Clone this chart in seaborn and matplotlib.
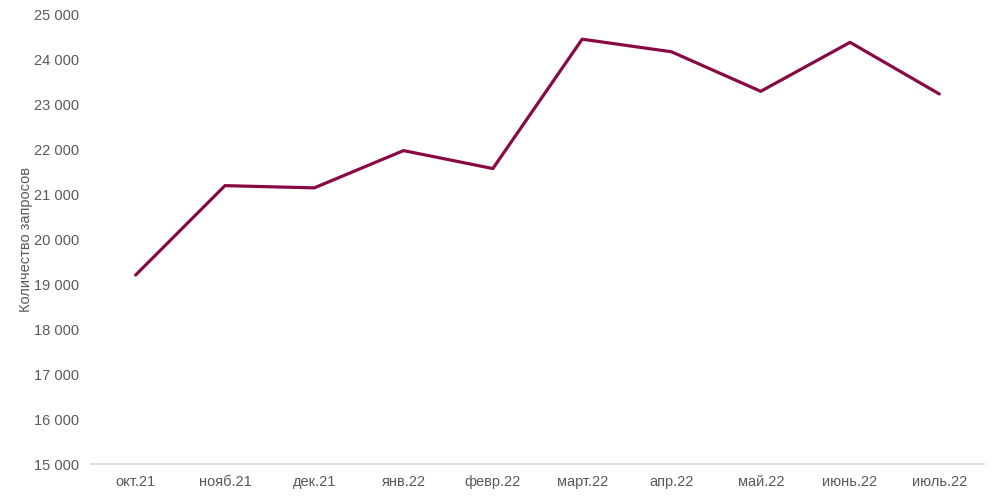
#Line chart of monthly request counts
import pandas as pd
import numpy as np
import seaborn as sns
import matplotlib.pyplot as plt
from matplotlib.ticker import FuncFormatter, MultipleLocator

months = ['окт.21', 'нояб.21', 'дек.21', 'янв.22', 'февр.22',
          'март.22', 'апр.22', 'май.22', 'июнь.22', 'июль.22']
requests = [19210, 21200, 21150, 21980, 21580, 24460, 24180, 23300, 24390, 23240]

df = pd.DataFrame({'month': months, 'requests': requests})

sns.set_theme(style='white')
plt.rcParams['font.family'] = ['Liberation Sans', 'DejaVu Sans']

fig = plt.figure(figsize=(10, 4.98), dpi=100)
ax = fig.add_axes([0.091, 0.068, 0.893, 0.902])

sns.lineplot(data=df, x='month', y='requests', sort=False, ax=ax,
             color='#870A45', linewidth=2.3)

ax.set_xlim(-0.5, len(months) - 0.5)
ax.set_ylim(15000, 25000)
ax.yaxis.set_major_locator(MultipleLocator(1000))
ax.yaxis.set_major_formatter(FuncFormatter(lambda v, p: f'{v:,.0f}'.replace(',', ' ')))

for s in ['top', 'right', 'left']:
    ax.spines[s].set_visible(False)
ax.spines['bottom'].set_color('#D9D9D9')
ax.spines['bottom'].set_linewidth(1.2)

ax.tick_params(axis='both', length=0, labelsize=10.5, labelcolor='#595959')
ax.tick_params(axis='y', pad=8.5)
ax.tick_params(axis='x', pad=7.5)
ax.set_xlabel('')
ax.set_ylabel('Количество запросов', fontsize=10.5, color='#595959', labelpad=1)

plt.savefig('out.png', dpi=100)
